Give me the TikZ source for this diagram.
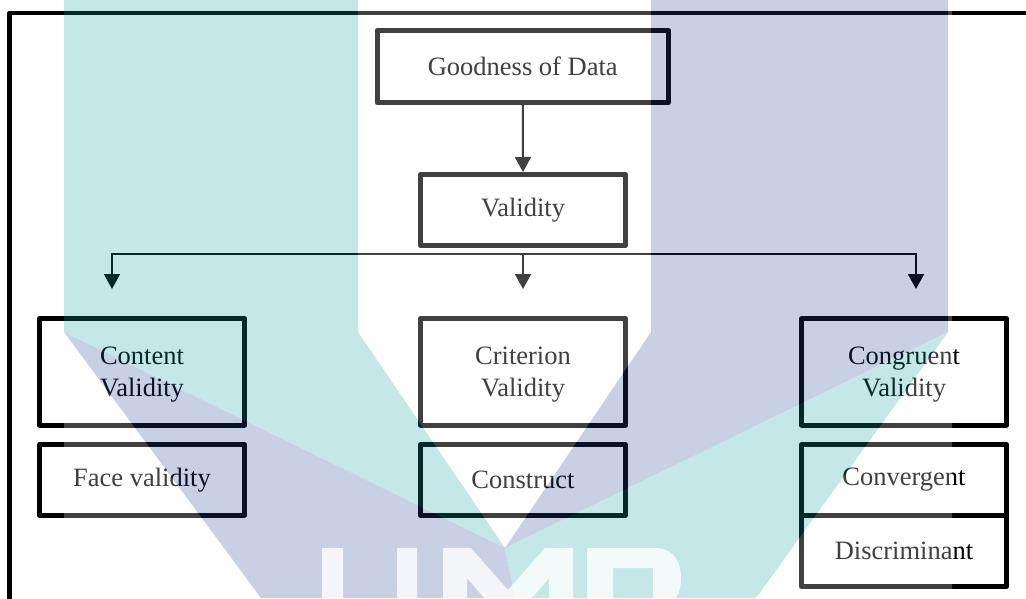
\documentclass[tikz,border=0pt]{standalone}
\usepackage{fontspec}
\setmainfont{Liberation Serif}
\usetikzlibrary{arrows.meta}
\definecolor{markteal}{RGB}{23,167,163}
\definecolor{markblue}{RGB}{39,71,147}
\begin{document}
\begin{tikzpicture}[x=1pt,y=-1pt,
  box/.style={draw=black, line width=5pt, line join=round, minimum width=205pt,
    inner sep=0pt, align=center, text=black,
    font=\fontsize{26.5pt}{32pt}\selectfont},
  tallbox/.style={box, minimum height=106.5pt, text height=56pt},
  link/.style={draw=black, line width=2pt, line join=miter,
    -{Triangle[width=16pt,length=15pt]}},
  frame/.style={draw=black, line width=4.5pt, line join=round}]
\useasboundingbox (0,0) rectangle (1026,598);
\fill[white] (0,0) rectangle (1026,598);

% outer frame (runs off the right and bottom edges)
\draw[frame] (1032,13) -- (9.5,13) -- (9.5,604);

% boxes
\node[box, minimum width=291.5pt, minimum height=72pt] (goodness) at (522.75,66.5) {Goodness of Data};
\node[box, minimum height=71pt]    (validity)     at (523,210)    {Validity};
\node[tallbox]                     (content)      at (142,371.75) {Content\\Validity};
\node[box, minimum height=70.5pt]  (face)         at (142,479.75) {Face validity};
\node[tallbox]                     (criterion)    at (523,371.75) {Criterion\\Validity};
\node[box, minimum height=71pt]    (construct)    at (523,480)    {Construct};
\node[tallbox]                     (congruent)    at (904,371.75) {Congruent\\Validity};
\node[box, minimum height=70.5pt]  (convergent)   at (904,479.75) {Convergent};
\node[box, minimum height=71.5pt]  (discriminant) at (904,550.75) {Discriminant};

% connectors
\draw[link] (goodness.south) -- (validity.north);
\coordinate (busM) at (523,253.5);
\coordinate (tipL) at (112,289);
\coordinate (tipM) at (523,289);
\coordinate (tipR) at (916,289);
\draw[link] (busM) -| (tipL);
\draw[link] (busM) -| (tipR);
\draw[link] (busM) -- (tipM);

% UMP emblem laid over the page
\begin{scope}[transparency group, opacity=0.25]
  \fill[white] (64,0) rectangle (952,598);
  \fill[markteal] (64,0) -- (358,0) -- (358,332) -- (505,548) -- (64,332) -- cycle;
  \fill[markteal] (948,332) -- (505,548) -- (515,598) -- (756,598) -- cycle;
  \fill[markblue] (651,0) -- (948,0) -- (948,332) -- (505,548) -- (651,332) -- cycle;
  \fill[markblue] (64,332) -- (505,548) -- (515,598) -- (261,598) -- cycle;
  \begin{scope}[fill=white, fill opacity=0.8]
    % U
    \fill (322,548) rectangle (343,600);
    \fill (397,548) rectangle (417,600);
    % M
    \fill (443,600) -- (443,548) -- (471,548) -- (508,590) -- (545,548) -- (573,548)
      -- (573,600) -- (549,600) -- (549,578) -- (530,600) -- (486,600) -- (467,578)
      -- (467,600) -- cycle;
    % P
    \fill[even odd rule] (587,548) -- (655,548) .. controls (672,548) and (681,560) .. (681,578)
      .. controls (681,596) and (672,610) .. (655,610) -- (613,610) -- (613,612) -- (587,612) -- cycle
      (613,568) rectangle (653,600);
  \end{scope}
\end{scope}
\end{tikzpicture}
\end{document}
